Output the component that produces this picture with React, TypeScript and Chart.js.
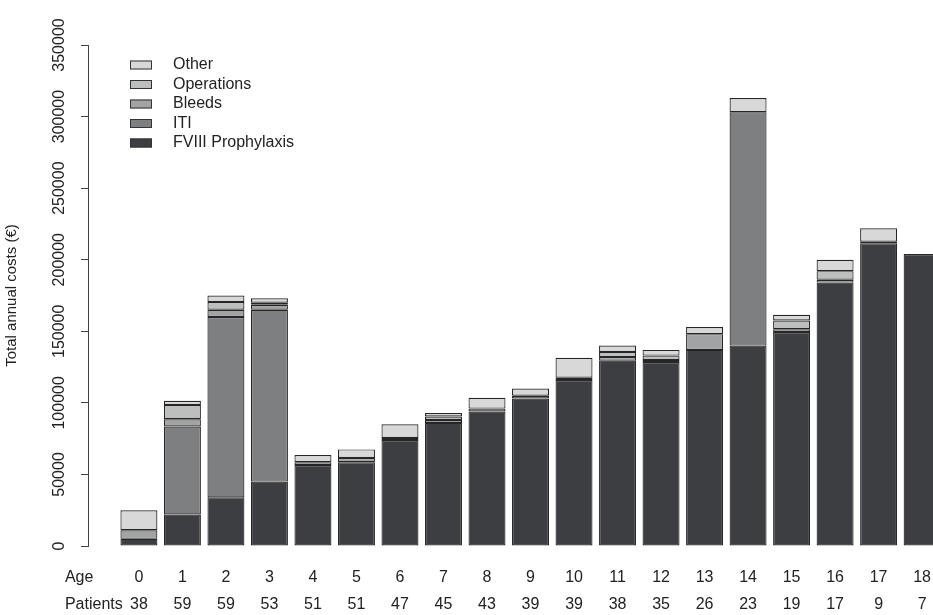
import React, { useEffect, useRef } from "react";
import { Chart, registerables } from "chart.js";

Chart.register(...registerables);

const ages = [0, 1, 2, 3, 4, 5, 6, 7, 8, 9, 10, 11, 12, 13, 14, 15, 16, 17, 18];
const patients = [38, 59, 59, 53, 51, 51, 47, 45, 43, 39, 39, 38, 35, 26, 23, 19, 17, 9, 7];

const fviii = [5000, 22000, 34000, 45000, 56500, 58500, 74000, 86000, 94000, 103000, 116000, 129500, 128500, 137000, 140000, 149500, 184000, 211500, 204000];
const iti = [0, 61500, 126000, 120000, 0, 0, 0, 0, 0, 0, 0, 0, 0, 0, 163000, 0, 0, 0, 0];
const bleeds = [6000, 5000, 5000, 3500, 2000, 3000, 1500, 2000, 2000, 2000, 1500, 2500, 1500, 11000, 0, 2000, 2000, 1000, 0];
const operations = [0, 10000, 5500, 1500, 0, 0, 0, 2500, 0, 0, 0, 3500, 3000, 0, 0, 6000, 6000, 0, 0];
const other = [14000, 3000, 4500, 3000, 5000, 6000, 9500, 2500, 7500, 5000, 14000, 4500, 4000, 5000, 10000, 4000, 8000, 9500, 0];

const yTicks = [0, 50000, 100000, 150000, 200000, 250000, 300000, 350000];

const seriesNames = ["FVIII Prophylaxis", "ITI", "Bleeds", "Operations", "Other"];
const seriesValues = [fviii, iti, bleeds, operations, other];
const seriesColors = ["#3c3e41", "#7e7f80", "#a2a3a4", "#bdbebe", "#d8d8d8"];

const FONT = "'Liberation Sans', Arial, sans-serif";
const FS = 16;
const TEXT = "#222";
const LINE_H = 27;
const ROW1 = 32;

const customPlugin = {
  id: "custom",
  afterDraw(chart: any) {
    const ctx = chart.ctx;
    const xs = chart.scales.x;
    const ys = chart.scales.y;
    const ca = chart.chartArea;
    ctx.save();
    ctx.fillStyle = TEXT;
    ctx.font = `${FS}px ${FONT}`;
    ctx.textAlign = "center";
    ctx.textBaseline = "middle";
    ys.ticks.forEach((t: any) => {
      const py = ys.getPixelForValue(t.value);
      ctx.save();
      ctx.translate(ca.left - 28, py);
      ctx.rotate(-Math.PI / 2);
      ctx.fillText(String(t.value), 0, 0);
      ctx.restore();
    });
    ctx.textAlign = "left";
    const hx = xs.getPixelForValue(0) - 74;
    const y0 = xs.top + ROW1;
    ctx.fillText("Age", hx, y0);
    ctx.fillText("Patients", hx, y0 + LINE_H);
    const lx = ca.left + 42;
    const ly = ca.top + 20;
    const ds = chart.data.datasets;
    for (let i = 0; i < ds.length; i++) {
      const d = ds[ds.length - 1 - i];
      const cy = ly + i * 19.5;
      ctx.fillStyle = d.backgroundColor;
      ctx.fillRect(lx, cy - 4.5, 22, 9);
      ctx.strokeStyle = "#333";
      ctx.lineWidth = 1;
      ctx.strokeRect(lx + 0.5, cy - 4, 21, 8);
      ctx.fillStyle = TEXT;
      ctx.font = `${FS}px ${FONT}`;
      ctx.textAlign = "left";
      ctx.textBaseline = "middle";
      ctx.fillText(d.label, lx + 43, cy);
    }
    ctx.restore();
  },
};

export default function App() {
  const ref = useRef<HTMLCanvasElement | null>(null);
  useEffect(() => {
    if (!ref.current) return;
    const chart = new Chart(ref.current, {
      type: "bar",
      data: {
        datasets: seriesNames.map((name, i) => ({
          label: name,
          data: ages.map((a, j) => ({ x: a, y: seriesValues[i][j] })),
          backgroundColor: seriesColors[i],
          borderColor: "#262626",
          borderWidth: 1.2,
          borderSkipped: false,
          barPercentage: 1,
          categoryPercentage: 0.85,
        })),
      },
      options: {
        animation: false,
        responsive: false,
        layout: { padding: { top: 45, left: 0, right: 0, bottom: 0 } },
        plugins: { legend: { display: false }, tooltip: { enabled: false } },
        scales: {
          x: {
            type: "linear",
            stacked: true,
            offset: false,
            min: -1.17,
            max: 18.25,
            afterBuildTicks: (scale: any) => {
              scale.ticks = ages.map((a) => ({ value: a }));
            },
            afterFit: (scale: any) => {
              scale.height = 69;
              scale.paddingLeft = 0;
              scale.paddingRight = 0;
            },
            grid: { display: false },
            border: { display: false },
            ticks: {
              padding: 10.5,
              maxRotation: 0,
              autoSkip: false,
              color: TEXT,
              font: { family: FONT, size: FS, lineHeight: LINE_H / FS },
              callback: (v: any) => {
                const i = ages.indexOf(Number(v));
                return i >= 0 ? [String(ages[i]), String(patients[i])] : "";
              },
            },
          },
          y: {
            stacked: true,
            min: 0,
            max: 350000,
            afterBuildTicks: (scale: any) => {
              scale.ticks = yTicks.map((v) => ({ value: v }));
            },
            afterFit: (scale: any) => {
              scale.width = 88;
              scale.paddingTop = 0;
              scale.paddingBottom = 0;
            },
            grid: { display: true, drawOnChartArea: false, drawTicks: true, tickLength: 7, color: "#444" },
            border: { display: true, color: "#444", width: 1 },
            ticks: { color: "rgba(0,0,0,0)", font: { family: FONT, size: 13 } },
            title: {
              display: true,
              text: "Total annual costs (€)",
              color: TEXT,
              font: { family: FONT, size: 15 },
              padding: { top: 3, bottom: 0 },
            },
          },
        },
      },
      plugins: [customPlugin],
    });
    return () => chart.destroy();
  }, []);
  return (
    <div style={{ position: "fixed", left: 0, top: 0, width: 933, height: 615, background: "#fff" }}>
      <canvas ref={ref} width={933} height={615} />
    </div>
  );
}
